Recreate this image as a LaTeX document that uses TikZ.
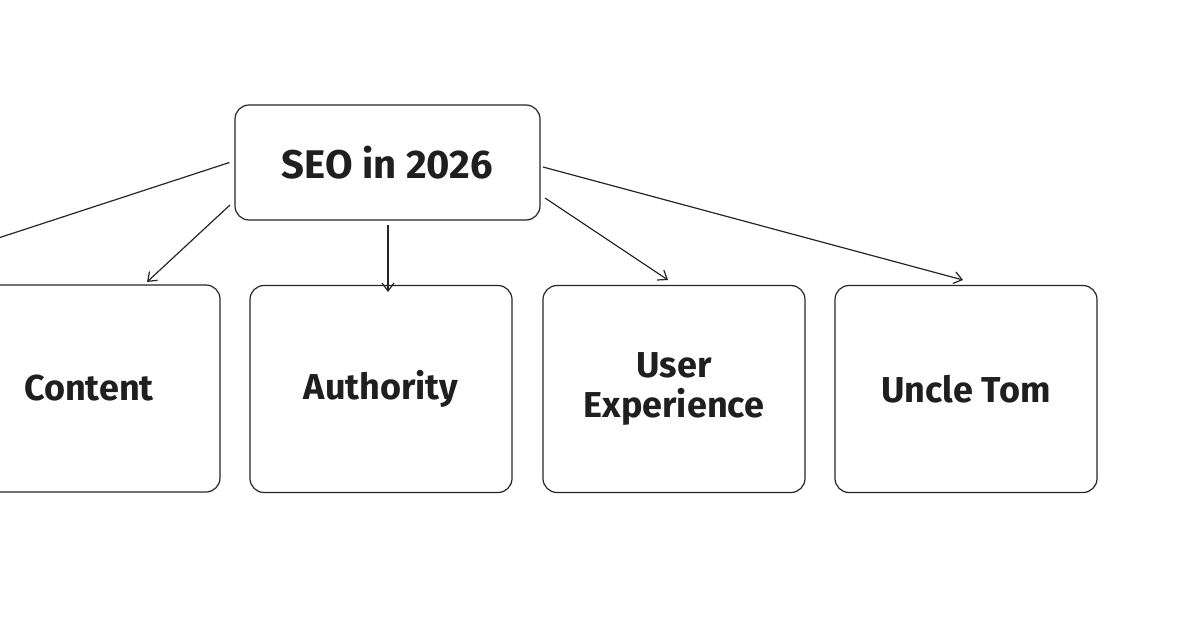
\documentclass[tikz,border=0pt]{standalone}
\usepackage{fontspec}
\setmainfont{Fira Sans}
\usetikzlibrary{arrows.meta}
\begin{document}
\begin{tikzpicture}[x=1pt,y=-1pt,
  box/.style={draw=black!85,line width=1.2pt,rounded corners=14pt,align=center,font=\fontsize{36}{40}\selectfont\bfseries,text=black!88},
  arr/.style={draw=black!85,line width=1.2pt,-{Straight Barb[length=8pt,width=12pt]}}]
\useasboundingbox (0,0) rectangle (1200,640);
\clip (0,0) rectangle (1200,640);
\fill[white] (0,0) rectangle (1200,640);
\node[box,minimum width=305pt,minimum height=115pt,font=\fontsize{40}{44}\selectfont\bfseries] (seo) at (387.5,162.5) {SEO in 2026};
\node[box,minimum width=262pt,minimum height=207pt] (content) at (89,388.5) {Content};
\node[box,minimum width=262pt,minimum height=207pt] (auth) at (381,389) {Authority};
\node[box,minimum width=262pt,minimum height=207pt] (ux) at (674,389) {User\\Experience};
\node[box,minimum width=262pt,minimum height=207pt] (uncle) at (966,389) {Uncle Tom};
\coordinate (off) at (-20,244);
\coordinate (a1) at (230,205); \coordinate (b1) at (147,282);
\coordinate (a2) at (388,225); \coordinate (b2) at (388,292);
\coordinate (a3) at (545,198); \coordinate (b3) at (668,280);
\coordinate (a4) at (543,167); \coordinate (b4) at (963,280);
\draw[draw=black!85,line width=1.2pt] (seo.west) ++(-5,0) coordinate (a0) -- (off);
\draw[arr] (a1) -- (b1);
\draw[arr] (a2) -- (b2);
\draw[arr] (a3) -- (b3);
\draw[arr] (a4) -- (b4);
\end{tikzpicture}
\end{document}
